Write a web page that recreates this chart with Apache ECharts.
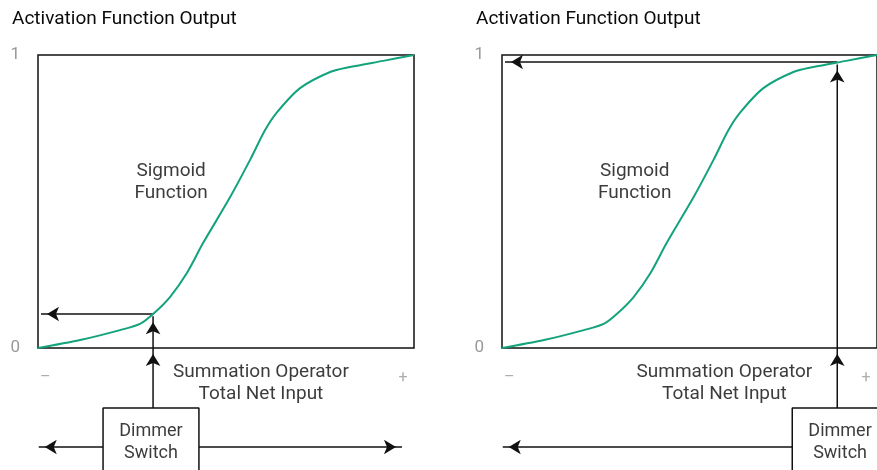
<!DOCTYPE html>
<html>
<head>
<meta charset="utf-8">
<title>Sigmoid activation</title>
<script src="https://cdn.jsdelivr.net/npm/echarts@6/dist/echarts.min.js"></script>
<style>
  html, body { margin: 0; padding: 0; background: #fff; }
  #chart { width: 877px; height: 470px; }
</style>
</head>
<body>
<div id="chart"></div>
<script>
// sigmoid curve (input 0..1, output 0..1)
var curveX = [0, 0.112, 0.218, 0.271, 0.306, 0.351, 0.396, 0.439, 0.511, 0.564, 0.604, 0.636, 0.697, 0.777, 0.830, 0.918, 1];
var curveY = [0, 0.027, 0.061, 0.082, 0.116, 0.174, 0.256, 0.358, 0.515, 0.642, 0.744, 0.805, 0.887, 0.942, 0.959, 0.980, 1];
// the dimmer switch setting in each panel and the output it gives
var inputX = [0.306, 0.894];
var outputY = [0.116, 0.976];
var yTicks = ['0', '1'];
var xEnds = ['–', '+'];
var titles = ['Activation Function Output', 'Activation Function Output'];

var FONT = 'Roboto';
var GREEN = '#13a37c';
var INK = '#111';
var TEXT = '#0a0a0a';

function arrow(data, rot, off) {
    // last point gets the arrow head
    var pts = data.slice(0, -1).map(function (p) { return { value: p }; });
    pts.push({ value: data[data.length - 1], symbol: 'arrow', symbolSize: [11, 12], symbolRotate: rot, symbolOffset: off });
    return pts;
}

function panel(i) {
    var x = inputX[i], y = outputY[i];
    var boxL = i === 0 ? x - 0.133 : x - 0.12;
    var boxR = boxL + 0.255;
    var lineStyle = { color: INK, width: 1.5 };
    var base = {
        type: 'line', xAxisIndex: i, yAxisIndex: i, clip: false, silent: true,
        symbol: 'none', showSymbol: true, lineStyle: lineStyle, itemStyle: { color: INK, borderWidth: 0 },
        animation: false, z: 3
    };
    var series = [];
    series.push({
        type: 'line', xAxisIndex: i, yAxisIndex: i, silent: true, symbol: 'none',
        smooth: 0.3, animation: false, z: 4,
        lineStyle: { color: GREEN, width: 2 },
        data: curveX.map(function (v, k) { return [v, curveY[k]]; })
    });
    // switch -> axis
    series.push(Object.assign({}, base, { data: arrow([[x, -0.205], [x, 0]], 0, [0, 6]) }));
    // axis -> curve
    series.push(Object.assign({}, base, { data: arrow([[x, 0], [x, y - 0.008]], 0, [0, 6]) }));
    // curve -> output axis
    series.push(Object.assign({}, base, { data: arrow([[x, y], [0.008, y]], 90, [6, 0]) }));
    // dimmer slide arrows
    series.push(Object.assign({}, base, { data: arrow([[boxL, -0.338], [0.002, -0.338]], 90, [6, 0]) }));
    if (i === 0) {
        series.push(Object.assign({}, base, { data: arrow([[boxR, -0.338], [0.968, -0.338]], -90, [-6, 0]) }));
    }
    // dimmer box
    series.push(Object.assign({}, base, {
        data: [[boxL, -0.48], [boxL, -0.205], [boxR, -0.205], [boxR, -0.48]]
    }));
    // text annotations
    var labels = [
        { value: [0.354, 0.567], text: 'Sigmoid\nFunction', color: TEXT, size: 19 },
        { value: [0.593, -0.119], text: 'Summation Operator\nTotal Net Input', color: TEXT, size: 19 },
        { value: [(boxL + boxR) / 2, -0.324], text: 'Dimmer\nSwitch', color: TEXT, size: 18 },
        { value: [0.019, -0.102], text: xEnds[0], color: '#999', size: 16 },
        { value: [0.971, -0.102], text: xEnds[1], color: '#999', size: 16 }
    ];
    series.push({
        type: 'scatter', xAxisIndex: i, yAxisIndex: i, clip: false, silent: true, animation: false,
        symbolSize: 1, itemStyle: { color: 'transparent' }, z: 5,
        data: labels.map(function (l) {
            return {
                value: l.value,
                label: {
                    show: true, position: 'inside', formatter: l.text, color: l.color,
                    fontSize: l.size, fontFamily: FONT, lineHeight: 22, align: 'center'
                }
            };
        })
    });
    return series;
}

var grids = [
    { left: 38, top: 55, width: 376, height: 293 },
    { left: 502, top: 55, width: 376, height: 293 }
];

var option = {
    backgroundColor: '#fff',
    title: titles.map(function (t, i) {
        return {
            text: t, left: i === 0 ? 12 : 476, top: 10, padding: 0,
            textStyle: { fontFamily: FONT, fontSize: 19, fontWeight: 'normal', color: TEXT }
        };
    }),
    grid: grids.map(function (g) {
        return Object.assign({ show: true, borderColor: INK, borderWidth: 1.5, backgroundColor: 'transparent' }, g);
    }),
    xAxis: grids.map(function (g, i) {
        return {
            type: 'value', gridIndex: i, min: 0, max: 1,
            axisLine: { show: false }, axisTick: { show: false },
            axisLabel: { show: false }, splitLine: { show: false }
        };
    }),
    yAxis: grids.map(function (g, i) {
        return {
            type: 'value', gridIndex: i, min: 0, max: 1, interval: 1,
            axisLine: { show: false }, axisTick: { show: false }, splitLine: { show: false },
            axisLabel: {
                margin: 18, color: '#999', fontSize: 17, fontFamily: FONT,
                formatter: function (v) { return yTicks[v]; }
            }
        };
    }),
    series: panel(0).concat(panel(1))
};

var myChart = echarts.init(document.getElementById('chart'));
myChart.setOption(option);
</script>
</body>
</html>
